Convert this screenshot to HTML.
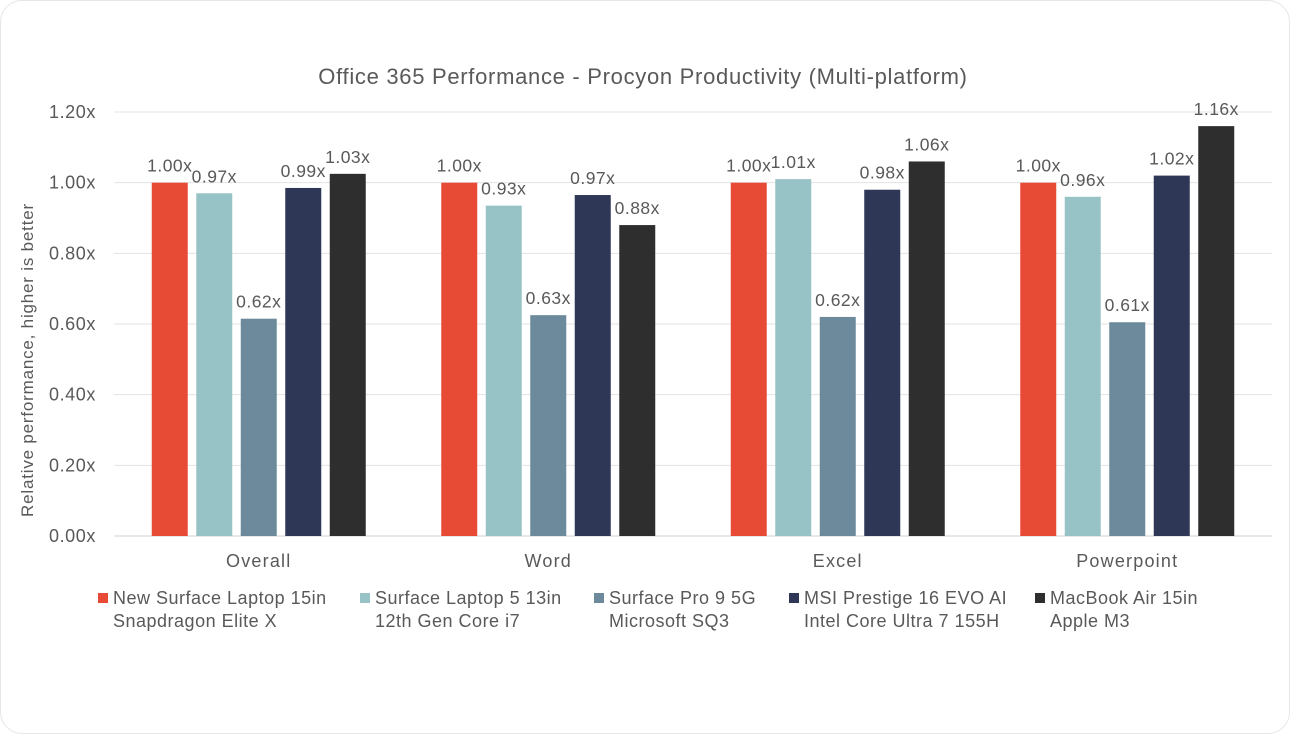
<!DOCTYPE html>
<html><head><meta charset="utf-8"><style>
html,body{margin:0;padding:0;background:#fff;}
body{width:1290px;height:734px;overflow:hidden;font-family:"Liberation Sans",sans-serif;}
.card{position:absolute;left:0;top:0;width:1288px;height:732px;border:1px solid #e6e6e6;border-radius:22px;background:#fff;}
</style></head><body>
<div class="card"></div>
<svg id="chart" width="1290" height="734" style="position:absolute;left:0;top:0"></svg>
<script>
const categories = ["Overall","Word","Excel","Powerpoint"];
const seriesNames = [["New Surface Laptop 15in","Snapdragon Elite X"],["Surface Laptop 5 13in","12th Gen Core i7"],["Surface Pro 9 5G","Microsoft SQ3"],["MSI Prestige 16 EVO AI","Intel Core Ultra 7 155H"],["MacBook Air 15in","Apple M3"]];
const s1 = [1.00,1.00,1.00,1.00];
const s2 = [0.97,0.935,1.01,0.96];
const s3 = [0.615,0.625,0.62,0.605];
const s4 = [0.985,0.965,0.98,1.02];
const s5 = [1.025,0.88,1.06,1.16];
const labels1 = ["1.00x","1.00x","1.00x","1.00x"];
const labels2 = ["0.97x","0.93x","1.01x","0.96x"];
const labels3 = ["0.62x","0.63x","0.62x","0.61x"];
const labels4 = ["0.99x","0.97x","0.98x","1.02x"];
const labels5 = ["1.03x","0.88x","1.06x","1.16x"];
const yTicks = [0,0.2,0.4,0.6,0.8,1.0,1.2];
const yTickLabels = ["0.00x","0.20x","0.40x","0.60x","0.80x","1.00x","1.20x"];
const colors = ["#E84B35","#98C3C6","#6C8A9C","#2E3756","#2E2E2E"];

const svg = document.getElementById('chart');
const NS = "http://www.w3.org/2000/svg";
const L=114, R=1272, T=112, B=536;
const y = v => B - (v/1.2)*(B-T);
const gw = (R-L)/categories.length;
const gx = i => L + gw*(i+0.5);
const bw = 36, step = 44.5;
const bx = (i,s) => gx(i) + (s-2)*step - bw/2;
function mk(tag, attrs, text){const e=document.createElementNS(NS,tag);for(const k in attrs)e.setAttribute(k,attrs[k]);if(text!==undefined)e.textContent=text;svg.appendChild(e);return e;}
const font = '"Liberation Sans",sans-serif';

let t = mk('text',{x:643,y:84,'text-anchor':'middle','font-size':22,'letter-spacing':0.7,fill:'#595959','font-family':font},"Office 365 Performance - Procyon Productivity (Multi-platform)");



yTicks.forEach((v,i)=>{
  const g = mk('line',{x1:L,x2:R,y1:y(v),y2:y(v),stroke:v===0?'#d0d0d0':'#e3e3e3','stroke-width':1});
  
  
  const tl = mk('text',{x:96,y:y(v)+6,'text-anchor':'end','font-size':18,'letter-spacing':0.6,fill:'#595959','font-family':font},yTickLabels[i]);
  
  
});
const yt = mk('text',{x:0,y:0,transform:'translate(33,360) rotate(-90)','text-anchor':'middle','font-size':17,'letter-spacing':0.8,fill:'#595959','font-family':font},"Relative performance, higher is better");



const series=[s1,s2,s3,s4,s5], labs=[labels1,labels2,labels3,labels4,labels5];
categories.forEach((c,i)=>{
  series.forEach((s,k)=>{
    const r = mk('rect',{x:bx(i,k),y:y(s[i]),width:bw,height:B-y(s[i]),fill:colors[k]});
    
    
    const l = mk('text',{x:bx(i,k)+bw/2,y:y(s[i])-11,'text-anchor':'middle','font-size':17.5,'letter-spacing':0.5,fill:'#595959','font-family':font},labs[k][i]);
    
    
  });
  const cl = mk('text',{x:gx(i),y:567,'text-anchor':'middle','font-size':18,'letter-spacing':1.2,fill:'#595959','font-family':font},c);
  
  
});

const legX=[98,360,594,789,1035];
seriesNames.forEach((n,k)=>{
  const sq = mk('rect',{x:legX[k],y:593,width:10,height:10,fill:colors[k]});
  
  
  const a = mk('text',{x:legX[k]+15,y:604,'font-size':18,'letter-spacing':0.5,fill:'#595959','font-family':font},n[0]);
  
  
  const b = mk('text',{x:legX[k]+15,y:627,'font-size':18,'letter-spacing':0.5,fill:'#595959','font-family':font},n[1]);
  
  
});
</script>
</body></html>
